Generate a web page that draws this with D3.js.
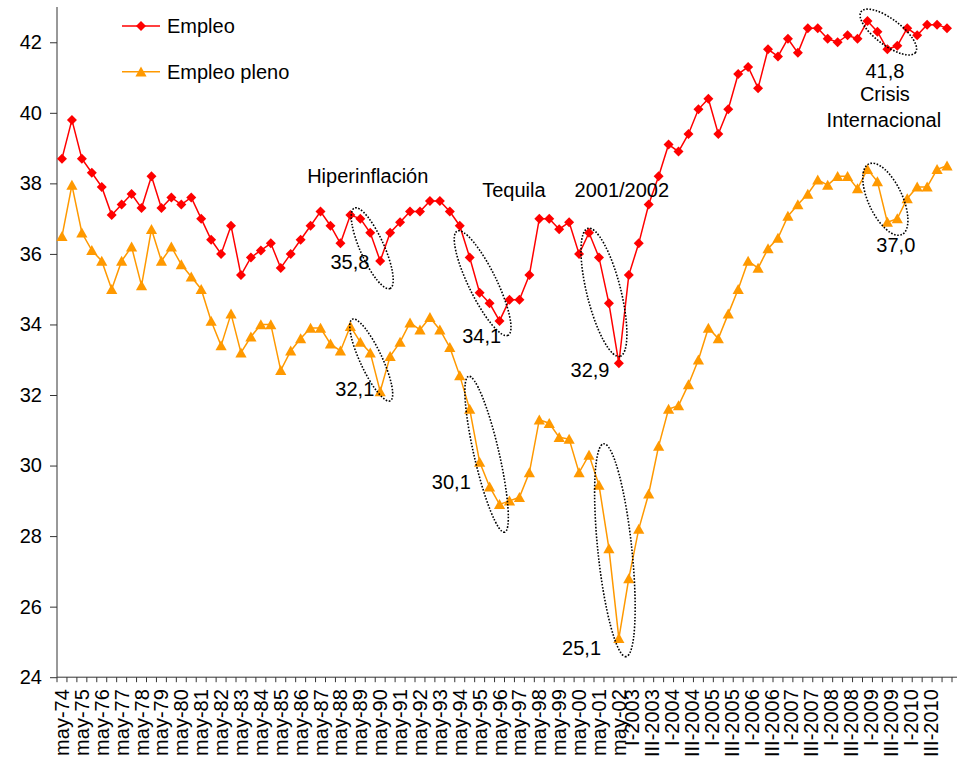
<!DOCTYPE html>
<html>
<head>
<meta charset="utf-8">
<script src="https://cdn.jsdelivr.net/npm/d3@7"></script>
<style>
  html, body { margin: 0; padding: 0; background: #fff; }
  svg { display: block; font-family: "Liberation Sans", Arial, sans-serif; }
</style>
</head>
<body>
<svg id="chart" width="961" height="763"></svg>
<script>
// ---------- DATA ----------
// 90 observations: May/October waves 1974-2002, then quarters 2003-2010
const semesterYears = ["74","75","76","77","78","79","80","81","82","83","84","85","86","87","88",
  "89","90","91","92","93","94","95","96","97","98","99","00","01","02"];
const quarterYears = ["2003","2004","2005","2006","2007","2008","2009","2010"];
const quarterNames = ["I","II","III","IV"];

const categories = [];
semesterYears.forEach(y => { categories.push("may-" + y); categories.push("oct-" + y); });
quarterYears.forEach(y => quarterNames.forEach(q => categories.push(q + "-" + y)));

// labels printed on the category axis, as in the original chart
const tickLabels = ["may-74","may-75","may-76","may-77","may-78","may-79","may-80","may-81",
  "may-82","may-83","may-84","may-85","may-86","may-87","may-88","may-89","may-90","may-91",
  "may-92","may-93","may-94","may-95","may-96","may-97","may-98","may-99","may-00","may-01",
  "may-02","I-2003","III-2003","I-2004","III-2004","I-2005","III-2005","I-2006","III-2006",
  "I-2007","III-2007","I-2008","III-2008","I-2009","III-2009","I-2010","III-2010"];

const empleo = [38.7, 39.8, 38.7, 38.3, 37.9, 37.1, 37.4, 37.7, 37.3, 38.2,
  37.3, 37.6, 37.4, 37.6, 37.0, 36.4, 36.0, 36.8, 35.4, 35.9,
  36.1, 36.3, 35.6, 36.0, 36.4, 36.8, 37.2, 36.8, 36.3, 37.1,
  37.0, 36.6, 35.8, 36.6, 36.9, 37.2, 37.2, 37.5, 37.5, 37.2,
  36.8, 35.9, 34.9, 34.6, 34.1, 34.7, 34.7, 35.4, 37.0, 37.0,
  36.7, 36.9, 36.0, 36.6, 35.9, 34.6, 32.9, 35.4, 36.3, 37.4,
  38.2, 39.1, 38.9, 39.4, 40.1, 40.4, 39.4, 40.1, 41.1, 41.3,
  40.7, 41.8, 41.6, 42.1, 41.7, 42.4, 42.4, 42.1, 42.0, 42.2,
  42.1, 42.6, 42.3, 41.8, 41.9, 42.4, 42.2, 42.5, 42.5, 42.4];

const empleoPleno = [36.5, 37.95, 36.6, 36.1, 35.8, 35.0, 35.8, 36.2, 35.1, 36.7,
  35.8, 36.2, 35.7, 35.35, 35.0, 34.1, 33.4, 34.3, 33.2, 33.65,
  34.0, 34.0, 32.7, 33.25, 33.6, 33.9, 33.9, 33.45, 33.25, 33.95,
  33.5, 33.2, 32.1, 33.1, 33.5, 34.05, 33.85, 34.2, 33.85, 33.35,
  32.55, 31.6, 30.1, 29.4, 28.9, 29.0, 29.1, 29.8, 31.3, 31.2,
  30.8, 30.75, 29.8, 30.3, 29.45, 27.65, 25.1, 26.8, 28.2, 29.2,
  30.55, 31.6, 31.7, 32.3, 33.0, 33.9, 33.6, 34.3, 35.0, 35.8,
  35.6, 36.15, 36.45, 37.07, 37.4, 37.7, 38.1, 37.95, 38.2, 38.2,
  37.85, 38.4, 38.05, 36.9, 37.0, 37.57, 37.9, 37.9, 38.4, 38.5];

const seriesNames = ["Empleo", "Empleo pleno"];
const yTicks = [24, 26, 28, 30, 32, 34, 36, 38, 40, 42];

// annotation ellipses: center given as (category position, value)
const ellipses = [
  { c: 31.2, v: 36.16, rx: 44, ry: 12, angle: 66 },
  { c: 31.1, v: 32.99, rx: 45, ry: 11, angle: 65 },
  { c: 42.3, v: 35.17, rx: 58, ry: 14, angle: 64 },
  { c: 54.5, v: 34.91, rx: 66, ry: 17, angle: 76 },
  { c: 42.7, v: 30.32, rx: 80, ry: 12.5, angle: 77 },
  { c: 55.6, v: 27.6, rx: 107, ry: 17, angle: 84 },
  { c: 83.1, v: 42.29, rx: 34, ry: 13, angle: 37 },
  { c: 82.8, v: 37.55, rx: 39, ry: 17, angle: 65 }
];

// annotation texts: centered at (category position, value of baseline)
const notes = [
  { text: "Hiperinflación", c: 30.75, v: 38.0 },
  { text: "Tequila", c: 45.45, v: 37.62 },
  { text: "2001/2002", c: 56.3, v: 37.62 },
  { text: "35,8", c: 28.95, v: 35.58 },
  { text: "32,1", c: 29.45, v: 31.96 },
  { text: "34,1", c: 42.2, v: 33.48 },
  { text: "32,9", c: 53.1, v: 32.51 },
  { text: "30,1", c: 39.15, v: 29.34 },
  { text: "25,1", c: 52.25, v: 24.64 },
  { text: "41,8", c: 82.75, v: 40.98 },
  { text: "Crisis", c: 82.75, v: 40.34 },
  { text: "Internacional", c: 82.65, v: 39.59 },
  { text: "37,0", c: 83.85, v: 36.06 }
];

// ---------- LAYOUT ----------
const svg = d3.select("#chart");
const M = { left: 57, right: 952, top: 7, bottom: 677.2 };

const x = d3.scaleBand().domain(categories).range([M.left, M.right]).padding(0);
const xc = i => M.left + (i + 0.5) * x.step();
const y = d3.scaleLinear().domain([24, 43]).range([M.bottom, M.top]);

// slot of each printed label: every other category, shifted in the quarterly part as in the original
const labelSlot = (k) => (tickLabels[k].startsWith("may") ? 2 * k : 2 * k - 0.65);

const axisColor = "#333";
const fontSize = 20;

// Y axis
const yAxis = svg.append("g")
  .attr("transform", `translate(${M.left},0)`)
  .call(d3.axisLeft(y).tickValues(yTicks).tickSize(7).tickPadding(8).tickFormat(d3.format("d")));
yAxis.select(".domain").attr("stroke", axisColor).attr("d", `M0,${M.bottom}V${M.top}`);
yAxis.selectAll(".tick line").attr("stroke", axisColor);
yAxis.selectAll(".tick text").attr("font-size", fontSize).attr("fill", "#000")
  .attr("font-family", "Liberation Sans, Arial, sans-serif");

// X axis
const xg = svg.append("g").attr("transform", `translate(0,${M.bottom})`);
xg.append("line").attr("x1", M.left).attr("x2", M.right + 5).attr("y1", 0).attr("y2", 0)
  .attr("stroke", axisColor);
xg.selectAll("line.tk").data(d3.range(categories.length + 1)).enter().append("line")
  .attr("class", "tk")
  .attr("x1", i => M.left + i * x.step()).attr("x2", i => M.left + i * x.step())
  .attr("y1", 0).attr("y2", 5).attr("stroke", axisColor);
xg.selectAll("text").data(tickLabels.map((t, k) => ({ t, i: labelSlot(k) })))
  .enter().append("text")
  .attr("transform", d => `translate(${xc(d.i)},12) rotate(-90)`)
  .attr("text-anchor", "end")
  .attr("dy", "0.35em")
  .attr("font-size", fontSize)
  .attr("fill", "#000")
  .text(d => d.t);

// Lines + markers
const diamond = "M0,-5L5,0L0,5L-5,0Z";
const triangle = "M0,-5.3L5.6,4.7L-5.6,4.7Z";
const series = [
  { name: seriesNames[0], values: empleo, color: "#FF0000", marker: diamond },
  { name: seriesNames[1], values: empleoPleno, color: "#FF9900", marker: triangle }
];

const line = d3.line().x((d, i) => xc(i)).y(d => y(d));

series.slice().reverse().forEach(s => {
  const g = svg.append("g");
  g.append("path").attr("d", line(s.values)).attr("fill", "none")
    .attr("stroke", s.color).attr("stroke-width", 1.5);
  g.selectAll("path.m").data(s.values).enter().append("path")
    .attr("class", "m")
    .attr("d", s.marker)
    .attr("transform", (d, i) => `translate(${xc(i)},${y(d)})`)
    .attr("fill", s.color);
});

// Ellipses
svg.append("g").selectAll("ellipse").data(ellipses).enter().append("ellipse")
  .attr("transform", d => `translate(${xc(d.c)},${y(d.v)}) rotate(${d.angle})`)
  .attr("rx", d => d.rx).attr("ry", d => d.ry)
  .attr("fill", "none").attr("stroke", "#000").attr("stroke-width", 1.6)
  .attr("stroke-dasharray", "1.6 1.6");

// Annotation texts
svg.append("g").selectAll("text").data(notes).enter().append("text")
  .attr("x", d => xc(d.c)).attr("y", d => y(d.v))
  .attr("text-anchor", "middle")
  .attr("font-size", fontSize).attr("fill", "#000")
  .text(d => d.text);

// Legend
const legend = svg.append("g");
series.forEach((s, k) => {
  const ly = 26 + k * 45.7;
  legend.append("line").attr("x1", 122).attr("x2", 160).attr("y1", ly).attr("y2", ly)
    .attr("stroke", s.color).attr("stroke-width", 1.5);
  legend.append("path").attr("d", s.marker).attr("transform", `translate(141,${ly})`).attr("fill", s.color);
  legend.append("text").attr("x", 167).attr("y", ly).attr("dy", "0.35em")
    .attr("font-size", fontSize).attr("fill", "#000").text(s.name);
});
</script>
</body>
</html>
